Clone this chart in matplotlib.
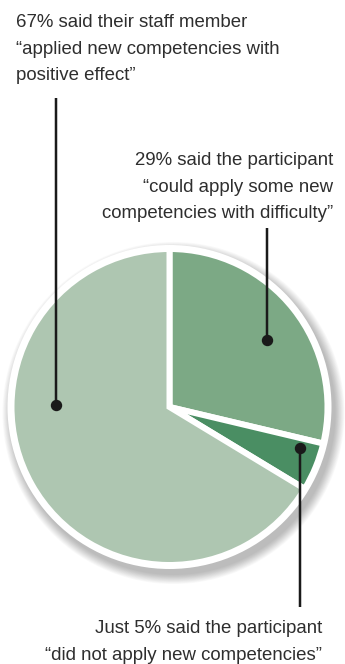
import matplotlib
matplotlib.use("Agg")
import matplotlib.pyplot as plt
from matplotlib.patches import Circle

# Data (clockwise from 12 o'clock)
categories = ["Some with difficulty", "Did not apply", "Applied with positive effect"]
values = [29, 5, 67]
colors = ["#7ca985", "#4a8e63", "#aec6b1"]

label_67 = ["67% said their staff member", "\u201capplied new competencies with", "positive effect\u201d"]
label_29 = ["29% said the participant", "\u201ccould apply some new", "competencies with difficulty\u201d"]
label_5 = ["Just 5% said the participant", "\u201cdid not apply new competencies\u201d"]

W, H = 345, 664
fig = plt.figure(figsize=(W / 100, H / 100), dpi=100)
ax = fig.add_axes([0, 0, 1, 1])

cx, cy = 169.5, 407
R = 158
px = 72 / 100  # points per pixel

# shadow
for i in range(14):
    ax.add_patch(Circle((cx + 4, cy + 6), 162 + i * 0.7, color="black", alpha=0.018, lw=0, zorder=1))
# white rim
ax.add_patch(Circle((cx, cy), 162, color="white", lw=0, zorder=2))

wedges, _ = ax.pie(values, colors=colors, startangle=-90, counterclock=True,
                   center=(cx, cy), radius=R,
                   wedgeprops=dict(edgecolor="white", linewidth=6 * px))
for w in wedges:
    w.set_zorder(3)
ax.set_xlim(0, W)
ax.set_ylim(H, 0)
ax.set_aspect("equal")
ax.axis("off")

tc = "#2e2e2e"
fs = 13.4
font = "Liberation Sans"
for i, s in enumerate(label_67):
    ax.text(16, 27 + i * 26.5, s, ha="left", va="baseline", fontsize=fs, color=tc, family=font)
for i, s in enumerate(label_29):
    ax.text(333, 165 + i * 26.5, s, ha="right", va="baseline", fontsize=fs, color=tc, family=font)
for i, s in enumerate(label_5):
    ax.text(322, 633 + i * 26.5, s, ha="right", va="baseline", fontsize=fs, color=tc, family=font)

lc = "#1a1a1a"
lw = 2.5 * px
ax.plot([56, 56], [98, 405], color=lc, lw=lw, zorder=5, solid_capstyle="butt")
ax.plot([56], [405], "o", ms=10 * px, color=lc, zorder=6)
ax.plot([267, 267], [228, 340], color=lc, lw=lw, zorder=5, solid_capstyle="butt")
ax.plot([267], [340], "o", ms=10 * px, color=lc, zorder=6)
ax.plot([300, 300], [448, 607], color=lc, lw=lw, zorder=5, solid_capstyle="butt")
ax.plot([300], [448], "o", ms=10 * px, color=lc, zorder=6)

fig.savefig("out.png", dpi=100, facecolor="white")
